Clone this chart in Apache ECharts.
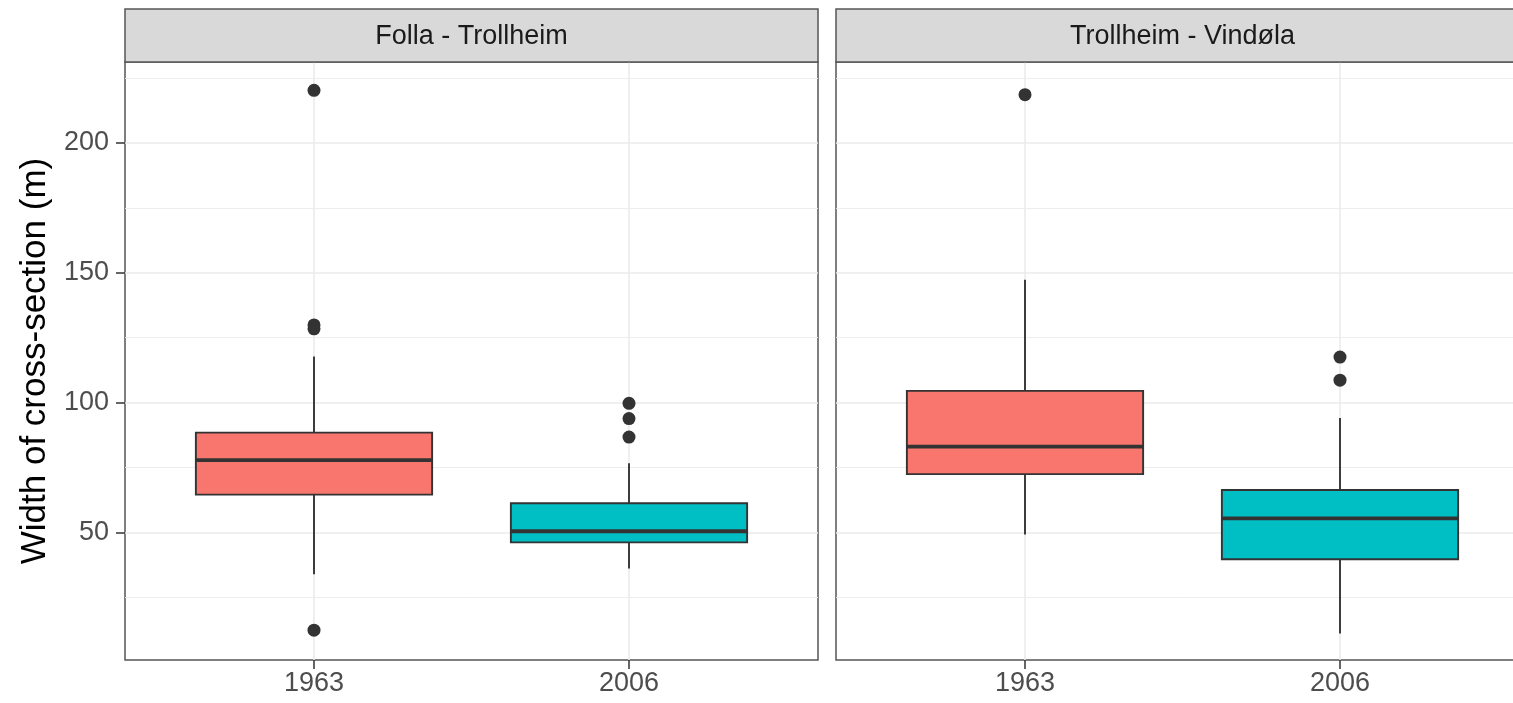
<!DOCTYPE html>
<html>
<head>
<meta charset="utf-8">
<script src="https://cdn.jsdelivr.net/npm/echarts@6/dist/echarts.min.js"></script>
<style>
  html, body { margin: 0; padding: 0; background: #ffffff; overflow: hidden; }
  /* the right-hand facet runs past the visible edge, so the drawing area is wider than the window */
  #chart { width: 1540px; height: 703px; }
</style>
</head>
<body>
<div id="chart"></div>
<script>
// ---- data ----
const panels = ['Folla - Trollheim', 'Trollheim - Vindøla'];
const years = ['1963', '2006'];
// each box: [position, lower whisker, Q1, median, Q3, upper whisker]
const boxesFolla = [
  [1, 33.8, 64.5, 77.8, 88.4, 117.7],
  [2, 36.1, 46.1, 50.4, 61.2, 76.6]
];
const boxesVindola = [
  [1, 49.2, 72.4, 83.0, 104.5, 147.3],
  [2, 11.0, 39.6, 55.4, 66.3, 94.0]
];
const outliersFolla = [
  [1, 220.3], [1, 129.9], [1, 128.4], [1, 12.3],
  [2, 99.7], [2, 93.8], [2, 86.7]
];
const outliersVindola = [
  [1, 218.6], [2, 117.5], [2, 108.6]
];
const majorTicks = [50, 100, 150, 200];
const minorTicks = [25, 75, 125, 175, 225];
const yearPositions = [1, 2];

// ---- styling / layout ----
const fills = ['#F8766D', '#00BFC4'];
const FONT = 'Liberation Sans, Arial, Helvetica, sans-serif';
const Y_MIN = 0.8, Y_MAX = 231.2;
const X_MIN = 0.4, X_MAX = 2.6;
const BOX_WIDTH = 0.75;           // in x-axis units
const PANEL_TOP = 62, PANEL_H = 598, PANEL_W = 693;
const PANEL_LEFTS = [125, 836];
const STRIP_TOP = 9, STRIP_H = 53;
const BORDER = '#555555';
const GRID_COLOR = '#ebebeb';
const INK = '#333333';

function boxRenderer(params, api) {
  const x = api.value(0);
  const lo = api.coord([x, api.value(1)]);
  const q1 = api.coord([x, api.value(2)]);
  const md = api.coord([x, api.value(3)]);
  const q3 = api.coord([x, api.value(4)]);
  const hi = api.coord([x, api.value(5)]);
  const half = api.size([BOX_WIDTH, 0])[0] / 2;
  const cx = q1[0];
  const stroke = { stroke: INK, lineWidth: 1.9 };
  return {
    type: 'group',
    children: [
      { type: 'line', shape: { x1: cx, y1: lo[1], x2: cx, y2: q1[1] }, style: stroke },
      { type: 'line', shape: { x1: cx, y1: q3[1], x2: cx, y2: hi[1] }, style: stroke },
      { type: 'rect', shape: { x: cx - half, y: q3[1], width: half * 2, height: q1[1] - q3[1] },
        style: { fill: fills[params.dataIndex], stroke: INK, lineWidth: 1.9 } },
      { type: 'line', shape: { x1: cx - half, y1: md[1], x2: cx + half, y2: md[1] },
        style: { stroke: INK, lineWidth: 3.8 } }
    ]
  };
}

const grids = PANEL_LEFTS.map(l => ({
  left: l, top: PANEL_TOP, width: PANEL_W, height: PANEL_H,
  show: true, borderColor: BORDER, borderWidth: 1.5, backgroundColor: 'transparent'
}));

const xAxes = [0, 1].map(i => ({
  type: 'value', gridIndex: i, min: X_MIN, max: X_MAX,
  axisLine: { show: false },
  axisTick: { show: true, customValues: yearPositions, length: 9, lineStyle: { color: INK, width: 1.5 } },
  axisLabel: {
    customValues: yearPositions, margin: 10, fontSize: 27, color: '#4d4d4d', fontFamily: FONT,
    formatter: v => years[Math.round(v) - 1]
  },
  splitLine: { show: true, lineStyle: { color: GRID_COLOR, width: 1.6 } }
}));

const yAxes = [];
[0, 1].forEach(i => {
  // major ticks and gridlines
  yAxes.push({
    type: 'value', gridIndex: i, min: Y_MIN, max: Y_MAX,
    axisLine: { show: false },
    axisTick: { show: i === 0, customValues: majorTicks, length: 9, lineStyle: { color: INK, width: 1.5 } },
    axisLabel: { show: i === 0, customValues: majorTicks, margin: 16, fontSize: 27, color: '#4d4d4d', fontFamily: FONT },
    splitLine: { show: true, lineStyle: { color: GRID_COLOR, width: 1.6 } },
    name: i === 0 ? 'Width of cross-section (m)' : '',
    nameLocation: 'middle', nameGap: 72,
    nameTextStyle: { fontSize: 35, color: '#000000', fontFamily: FONT }
  });
  // minor gridlines
  yAxes.push({
    type: 'value', gridIndex: i, min: Y_MIN, max: Y_MAX,
    axisLine: { show: false },
    axisTick: { show: false, customValues: minorTicks },
    axisLabel: { show: false, customValues: minorTicks },
    splitLine: { show: true, lineStyle: { color: GRID_COLOR, width: 0.9 } }
  });
});

const boxSets = [boxesFolla, boxesVindola];
const outlierSets = [outliersFolla, outliersVindola];
const series = [];
[0, 1].forEach(i => {
  series.push({
    type: 'custom', xAxisIndex: i, yAxisIndex: i * 2,
    renderItem: boxRenderer,
    encode: { x: 0, y: [1, 2, 3, 4, 5] },
    data: boxSets[i], z: 3, silent: true
  });
  series.push({
    type: 'scatter', xAxisIndex: i, yAxisIndex: i * 2,
    data: outlierSets[i], symbolSize: 13,
    itemStyle: { color: INK, opacity: 1 }, z: 4, silent: true
  });
});

// facet strips
const graphics = [];
PANEL_LEFTS.forEach((l, i) => {
  graphics.push({
    type: 'rect', silent: true, z: 10,
    shape: { x: l, y: STRIP_TOP, width: PANEL_W, height: STRIP_H },
    style: { fill: '#d9d9d9', stroke: BORDER, lineWidth: 1.5 }
  });
  graphics.push({
    type: 'text', silent: true, z: 11,
    x: l + PANEL_W / 2, y: STRIP_TOP + STRIP_H / 2 + 1,
    style: {
      text: panels[i], font: '27px ' + FONT, fill: '#1a1a1a',
      textAlign: 'center', textVerticalAlign: 'middle'
    }
  });
});

const chart = echarts.init(document.getElementById('chart'), null, { renderer: 'canvas' });
chart.setOption({
  animation: false,
  backgroundColor: '#ffffff',
  grid: grids,
  xAxis: xAxes,
  yAxis: yAxes,
  series: series,
  graphic: graphics
});
</script>
</body>
</html>
